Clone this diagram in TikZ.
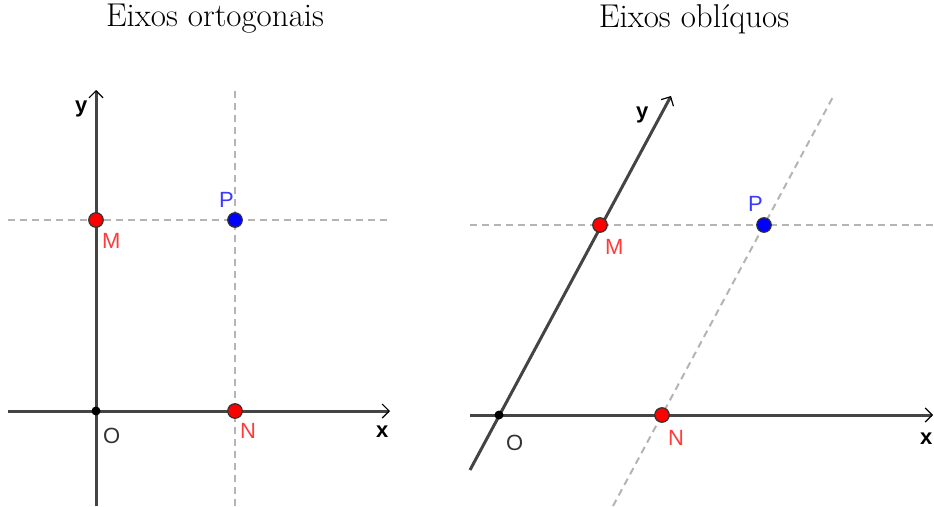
\documentclass[tikz,border=0pt]{standalone}
\usepackage{fontspec}
\newfontfamily\labfont{Liberation Sans}
\usetikzlibrary{arrows.meta}
\definecolor{axisgray}{HTML}{444444}
\definecolor{guidegray}{HTML}{B4B4B4}
\definecolor{labred}{HTML}{FF3B3B}
\definecolor{labblue}{HTML}{3B3BFF}
\definecolor{labgray}{HTML}{333333}

\begin{document}
\begin{tikzpicture}[x=1pt,y=-1pt,
  axis/.style={draw=axisgray,line width=3pt,-{Straight Barb[length=7pt,width=14pt,line width=1.2pt,black]}},
  guide/.style={draw=guidegray,line width=2pt,dash pattern=on 7pt off 5pt},
  pt/.style={circle,draw=black!80,line width=1.2pt,inner sep=0pt,minimum size=14.5pt},
  dot/.style={circle,fill=black,inner sep=0pt,minimum size=9pt},
  lab/.style={font=\labfont\fontsize{22}{26}\selectfont,anchor=base west,inner sep=0pt},
  axlab/.style={lab,font=\labfont\bfseries\fontsize{22}{26}\selectfont},
  ttl/.style={font=\fontsize{33}{38}\selectfont}]
\useasboundingbox (0,0) rectangle (934,506);

% titles
\node[ttl] at (215,19) (ttlort){Eixos ortogonais};
\node[ttl] at (694,19) (ttlobl){Eixos oblíquos};

% ortogonais
\coordinate (xa1) at (8,411);
\coordinate (xb1) at (390,411);
\coordinate (ya1) at (96,506);
\coordinate (yb1) at (96,90);
\coordinate (ha1) at (8,220);
\coordinate (hb1) at (390,220);
\coordinate (va1) at (235,506);
\coordinate (vb1) at (235,88);
\draw[guide] (ha1)--(hb1);
\draw[guide] (va1)--(vb1);
\draw[axis] (xa1)--(xb1);
\draw[axis] (ya1)--(yb1);

% obliquos
\coordinate (xa2) at (470,415);
\coordinate (xb2) at (933,415);
\coordinate (ya2) at (470,470);
\coordinate (yb2) at (671,96);
\coordinate (ha2) at (470,225);
\coordinate (hb2) at (934,225);
\coordinate (va2) at (613,506);
\coordinate (vb2) at (834,95);
\draw[guide] (ha2)--(hb2);
\draw[guide] (va2)--(vb2);
\draw[axis] (xa2)--(xb2);
\draw[axis] (ya2)--(yb2);

% points
\node[dot] at (96,411) (O1){};
\node[dot] at (499,415) (O2){};
\foreach \p/\q in {(96,220)/M1,(235,411)/N1,(600,225)/M2,(662,415)/N2}{
\node[pt,fill=red] at \p (\q){};
}
\foreach \p/\q in {(235,220)/P1,(764,225)/P2}{
\node[pt,fill=blue] at \p (\q){};
}

% labels
\node[axlab] at (75,112) (ly1){y};
\node[axlab] at (376,437) (lx1){x};
\node[lab,text=labred] at (102,248) (lM1){M};
\node[lab,text=labblue] at (219,207) (lP1){P};
\node[lab,text=labgray] at (103,443) (lO1){O};
\node[lab,text=labred] at (240,438) (lN1){N};
\node[axlab] at (636,118) (ly2){y};
\node[axlab] at (920,444) (lx2){x};
\node[lab,text=labred] at (605,254) (lM2){M};
\node[lab,text=labblue] at (748,211) (lP2){P};
\node[lab,text=labgray] at (506,450) (lO2){O};
\node[lab,text=labred] at (668,445) (lN2){N};
\end{tikzpicture}
\end{document}
